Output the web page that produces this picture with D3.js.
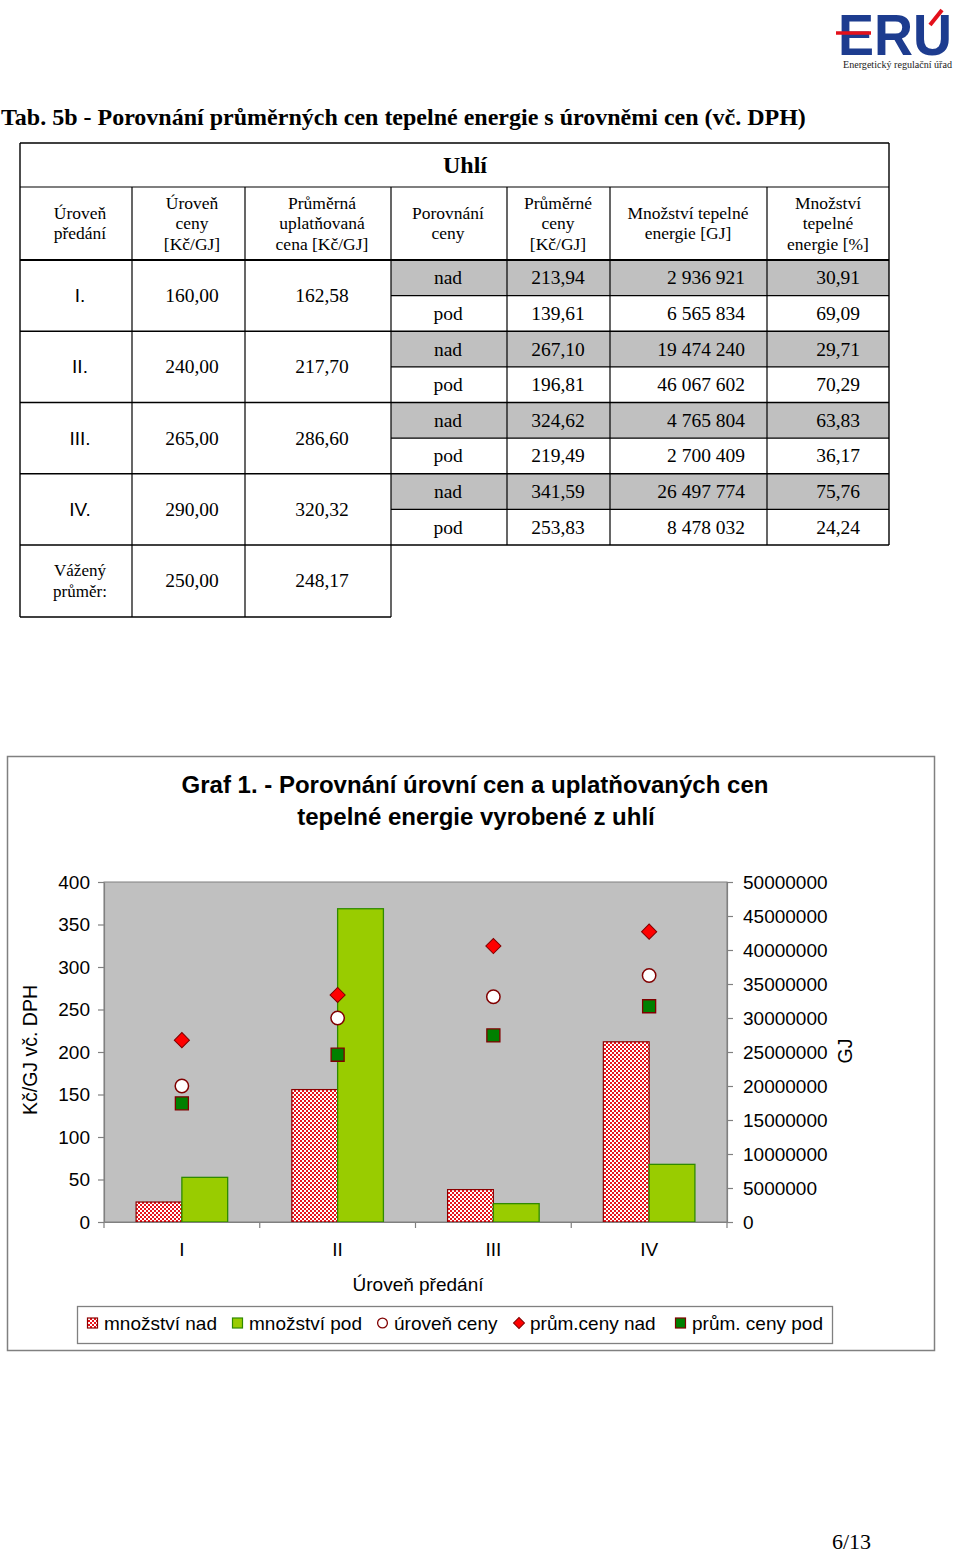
<!DOCTYPE html>
<html><head><meta charset="utf-8">
<script src="https://cdn.jsdelivr.net/npm/d3@7"></script>
<style>
html,body{margin:0;padding:0;background:#fff;}
svg{display:block;}
</style></head><body>
<svg id="page" width="960" height="1553"></svg>
<script>
// ---------------- DATA ----------------
const levels = ["I.", "II.", "III.", "IV."];
const categories = ["I", "II", "III", "IV"];
const urovenCeny = [160.00, 240.00, 265.00, 290.00];
const prumUplatCena = [162.58, 217.70, 286.60, 320.32];
const prumCenyNad = [213.94, 267.10, 324.62, 341.59];
const prumCenyPod = [139.61, 196.81, 219.49, 253.83];
const mnozstviNad = [2936921, 19474240, 4765804, 26497774];
const mnozstviPod = [6565834, 46067602, 2700409, 8478032];
const podilNad = [30.91, 29.71, 63.83, 75.76];
const podilPod = [69.09, 70.29, 36.17, 24.24];
const vazenyPrumer = [250.00, 248.17];
const leftTicks = [0, 50, 100, 150, 200, 250, 300, 350, 400];
const rightTicks = [0, 5000000, 10000000, 15000000, 20000000, 25000000, 30000000, 35000000, 40000000, 45000000, 50000000];
const legendLabels = ["množství nad", "množství pod", "úroveň ceny", "prům.ceny nad", "prům. ceny pod"];

// ---------------- SETUP ----------------
const cz = d3.formatLocale({decimal: ",", thousands: " ", grouping: [3], currency: ["", ""]});
const f2 = cz.format(".2f");
const fInt = cz.format(",d");
const serif = "'Liberation Serif','Times New Roman',serif";
const sans = "'Liberation Sans',Arial,sans-serif";
const svg = d3.select("#page");
svg.append("rect").attr("width", 960).attr("height", 1553).attr("fill", "#fff");

// ---------------- LOGO ----------------
const logo = svg.append("g");
logo.append("text").attr("x", 838).attr("y", 55).attr("font-family", sans).attr("font-weight", "bold")
  .attr("font-size", 57).attr("fill", "#1d3c8f").attr("textLength", 114).attr("lengthAdjust", "spacingAndGlyphs").text("ERU");
logo.append("line").attr("x1", 836).attr("x2", 871).attr("y1", 33).attr("y2", 33).attr("stroke", "#e3101b").attr("stroke-width", 3.5);
logo.append("line").attr("x1", 930).attr("x2", 942).attr("y1", 25).attr("y2", 10).attr("stroke", "#e3101b").attr("stroke-width", 4);
logo.append("text").attr("x", 843).attr("y", 68).attr("font-family", serif).attr("font-size", 10)
  .attr("textLength", 109).attr("lengthAdjust", "spacingAndGlyphs").attr("fill", "#222").text("Energetický regulační úřad");

// ---------------- TABLE ----------------
svg.append("text").attr("x", 1).attr("y", 125).attr("font-family", serif).attr("font-weight", "bold")
  .attr("font-size", 24).text("Tab. 5b - Porovnání průměrných cen tepelné energie s úrovněmi cen (vč. DPH)");

const colX = [20, 132, 245, 391, 507, 610, 767, 889];
const tTop = 143, tH1 = 187, tH2 = 260;
const rowY = d3.scaleLinear().domain([0, 8]).range([tH2, 545]);
const wBottom = 617;
const tbl = svg.append("g");

// gray "nad" rows
tbl.selectAll("rect.nad").data(levels).join("rect")
  .attr("x", colX[3]).attr("width", colX[7] - colX[3])
  .attr("y", (d, i) => rowY(2 * i)).attr("height", (d, i) => rowY(2 * i + 1) - rowY(2 * i))
  .attr("fill", "#c0c0c0");

function hline(x1, x2, y, w) { tbl.append("line").attr("x1", x1).attr("x2", x2).attr("y1", y).attr("y2", y).attr("stroke", "#000").attr("stroke-width", w || 1.2); }
function vline(x, y1, y2, w) { tbl.append("line").attr("x1", x).attr("x2", x).attr("y1", y1).attr("y2", y2).attr("stroke", "#000").attr("stroke-width", w || 1.2); }

hline(colX[0], colX[7], tTop, 1.4);
hline(colX[0], colX[7], tH1);
hline(colX[0], colX[7], tH2, 2.2);
for (let g = 1; g <= 4; g++) hline(colX[0], colX[7], rowY(2 * g), 1.3);
for (let g = 0; g < 4; g++) hline(colX[3], colX[7], rowY(2 * g + 1));
hline(colX[0], colX[3], wBottom, 1.3);
vline(colX[0], tTop, wBottom, 1.4);
vline(colX[7], tTop, rowY(8), 1.4);
[1, 2].forEach(c => vline(colX[c], tH1, wBottom));
vline(colX[3], tH1, wBottom);
[4, 5, 6].forEach(c => vline(colX[c], tH1, rowY(8)));

tbl.append("text").attr("x", 465).attr("y", 173).attr("text-anchor", "middle").attr("font-family", serif)
  .attr("font-weight", "bold").attr("font-size", 24).text("Uhlí");

const headers = [
  {cx: 80, lines: ["Úroveň", "předání"]},
  {cx: 192, lines: ["Úroveň", "ceny", "[Kč/GJ]"]},
  {cx: 322, lines: ["Průměrná", "uplatňovaná", "cena [Kč/GJ]"]},
  {cx: 448, lines: ["Porovnání", "ceny"]},
  {cx: 558, lines: ["Průměrné", "ceny", "[Kč/GJ]"]},
  {cx: 688, lines: ["Množství tepelné", "energie [GJ]"]},
  {cx: 828, lines: ["Množství", "tepelné", "energie [%]"]}
];
headers.forEach(h => {
  const n = h.lines.length;
  const y0 = 223.5 - (n - 1) * 20.5 / 2 + 5.5;
  const t = tbl.append("text").attr("text-anchor", "middle").attr("font-family", serif).attr("font-size", 17.5);
  h.lines.forEach((l, i) => t.append("tspan").attr("x", h.cx).attr("y", y0 + i * 20.5).text(l));
});

const bodyFs = 19.5;
function cell(x, y, txt, anchor, fam, fs) {
  tbl.append("text").attr("x", x).attr("y", y).attr("text-anchor", anchor || "middle")
    .attr("font-family", fam || serif).attr("font-size", fs || bodyFs).text(txt);
}
levels.forEach((lv, i) => {
  const gc = (rowY(2 * i) + rowY(2 * i + 2)) / 2;
  cell(80, gc + 6.5, lv, "middle", sans, 19);
  cell(192, gc + 6.5, f2(urovenCeny[i]));
  cell(322, gc + 6.5, f2(prumUplatCena[i]));
  const yN = (rowY(2 * i) + rowY(2 * i + 1)) / 2 + 6.5;
  const yP = (rowY(2 * i + 1) + rowY(2 * i + 2)) / 2 + 6.5;
  cell(448, yN, "nad"); cell(448, yP, "pod");
  cell(558, yN, f2(prumCenyNad[i])); cell(558, yP, f2(prumCenyPod[i]));
  cell(745, yN, fInt(mnozstviNad[i]), "end"); cell(745, yP, fInt(mnozstviPod[i]), "end");
  cell(860, yN, f2(podilNad[i]), "end"); cell(860, yP, f2(podilPod[i]), "end");
});
{
  const t = tbl.append("text").attr("text-anchor", "middle").attr("font-family", serif).attr("font-size", 17);
  t.append("tspan").attr("x", 80).attr("y", 576).text("Vážený");
  t.append("tspan").attr("x", 80).attr("y", 597).text("průměr:");
  cell(192, 587, f2(vazenyPrumer[0]));
  cell(322, 587, f2(vazenyPrumer[1]));
}

// ---------------- CHART ----------------
const ch = svg.append("g");
ch.append("rect").attr("x", 7.5).attr("y", 756.5).attr("width", 927).attr("height", 594).attr("fill", "#fff")
  .attr("stroke", "#808080").attr("stroke-width", 1.5);

ch.append("text").attr("x", 475).attr("y", 793).attr("text-anchor", "middle").attr("font-family", sans)
  .attr("font-weight", "bold").attr("font-size", 24).text("Graf 1. - Porovnání úrovní cen a uplatňovaných cen");
ch.append("text").attr("x", 476).attr("y", 825).attr("text-anchor", "middle").attr("font-family", sans)
  .attr("font-weight", "bold").attr("font-size", 24).text("tepelné energie vyrobené z uhlí");

const X0 = 104, X1 = 727, Y0 = 1222, Y1 = 882;
const x = d3.scaleBand().domain(categories).range([X0, X1]);
const yL = d3.scaleLinear().domain([0, 400]).range([Y0, Y1]);
const yR = d3.scaleLinear().domain([0, 50000000]).range([Y0, Y1]);

// pattern for "množství nad"
const defs = svg.append("defs");
const pat = defs.append("pattern").attr("id", "checker").attr("patternUnits", "userSpaceOnUse")
  .attr("width", 4).attr("height", 4);
pat.append("rect").attr("width", 4).attr("height", 4).attr("fill", "#ffffff");
pat.append("rect").attr("width", 2).attr("height", 2).attr("fill", "#e8141c");
pat.append("rect").attr("x", 2).attr("y", 2).attr("width", 2).attr("height", 2).attr("fill", "#e8141c");

ch.append("rect").attr("x", X0).attr("y", Y1).attr("width", X1 - X0).attr("height", Y0 - Y1)
  .attr("fill", "#c0c0c0").attr("stroke", "#808080").attr("stroke-width", 1);

const bw = x.bandwidth() * 0.294;
const cx = c => x(c) + x.bandwidth() / 2;

ch.selectAll("rect.nad").data(categories).join("rect").attr("class", "nad")
  .attr("x", c => cx(c) - bw).attr("width", bw)
  .attr("y", (c, i) => yR(mnozstviNad[i])).attr("height", (c, i) => Y0 - yR(mnozstviNad[i]))
  .attr("fill", "url(#checker)").attr("stroke", "#8c0000").attr("stroke-width", 1.2);
ch.selectAll("rect.pod").data(categories).join("rect").attr("class", "pod")
  .attr("x", c => cx(c)).attr("width", bw)
  .attr("y", (c, i) => yR(mnozstviPod[i])).attr("height", (c, i) => Y0 - yR(mnozstviPod[i]))
  .attr("fill", "#99cc00").attr("stroke", "#2f8a00").attr("stroke-width", 1.3);

// axes
const axL = ch.append("g").attr("transform", `translate(${X0},0)`)
  .call(d3.axisLeft(yL).tickValues(leftTicks).tickSize(6).tickSizeOuter(0).tickPadding(8));
const axR = ch.append("g").attr("transform", `translate(${X1},0)`)
  .call(d3.axisRight(yR).tickValues(rightTicks).tickFormat(d => String(d)).tickSize(6).tickSizeOuter(0).tickPadding(10));
const axB = ch.append("g").attr("transform", `translate(0,${Y0})`)
  .call(d3.axisBottom(x).tickSize(0).tickSizeOuter(0).tickPadding(21));
[axL, axR, axB].forEach(a => {
  a.selectAll("path.domain").attr("stroke", "#808080").attr("stroke-width", 1.2);
  a.selectAll(".tick line").attr("stroke", "#808080").attr("stroke-width", 1.2);
  a.selectAll("text").attr("font-family", sans).attr("font-size", 19).attr("fill", "#000");
});
// category boundary ticks
ch.selectAll("line.btick").data(categories.map(c => x(c)).concat([X1])).join("line")
  .attr("x1", d => d).attr("x2", d => d).attr("y1", Y0).attr("y2", Y0 + 6)
  .attr("stroke", "#808080").attr("stroke-width", 1.2);

// markers
const diamond = d3.symbol().type(d3.symbolSquare).size(115);
const circle = d3.symbol().type(d3.symbolCircle).size(140);
const square = d3.symbol().type(d3.symbolSquare).size(170);
ch.selectAll("path.cir").data(categories).join("path")
  .attr("transform", (c, i) => `translate(${cx(c)},${yL(urovenCeny[i])})`).attr("d", circle)
  .attr("fill", "#fff").attr("stroke", "#800000").attr("stroke-width", 1.5);
ch.selectAll("path.dia").data(categories).join("path")
  .attr("transform", (c, i) => `translate(${cx(c)},${yL(prumCenyNad[i])}) rotate(45)`).attr("d", diamond)
  .attr("fill", "#ff0000").attr("stroke", "#800000").attr("stroke-width", 1);
ch.selectAll("path.sq").data(categories).join("path")
  .attr("transform", (c, i) => `translate(${cx(c)},${yL(prumCenyPod[i])})`).attr("d", square)
  .attr("fill", "#008000").attr("stroke", "#800000").attr("stroke-width", 1.3);

// axis titles
ch.append("text").attr("transform", "translate(37,1050) rotate(-90)").attr("text-anchor", "middle")
  .attr("font-family", sans).attr("font-size", 19.5).text("Kč/GJ vč. DPH");
ch.append("text").attr("transform", "translate(852,1051) rotate(-90)").attr("text-anchor", "middle")
  .attr("font-family", sans).attr("font-size", 19.5).text("GJ");
ch.append("text").attr("x", 418).attr("y", 1291).attr("text-anchor", "middle")
  .attr("font-family", sans).attr("font-size", 19).text("Úroveň předání");

// legend
const lg = ch.append("g");
lg.append("rect").attr("x", 77.5).attr("y", 1306.5).attr("width", 755).attr("height", 37)
  .attr("fill", "#fff").attr("stroke", "#808080").attr("stroke-width", 1.3);
const legX = [87, 232, 377, 513, 675];
const ly = 1323;
legendLabels.forEach((lab, i) => {
  const g = lg.append("g");
  const sx = legX[i];
  if (i === 0) g.append("rect").attr("x", sx + 0.5).attr("y", ly - 5).attr("width", 10).attr("height", 10)
    .attr("fill", "url(#checker)").attr("stroke", "#8c0000").attr("stroke-width", 1.2);
  if (i === 1) g.append("rect").attr("x", sx + 0.5).attr("y", ly - 5).attr("width", 10).attr("height", 10)
    .attr("fill", "#99cc00").attr("stroke", "#2f8a00").attr("stroke-width", 1.2);
  if (i === 2) g.append("path").attr("transform", `translate(${sx + 5.5},${ly})`).attr("d", d3.symbol().type(d3.symbolCircle).size(75))
    .attr("fill", "#fff").attr("stroke", "#800000").attr("stroke-width", 1.3);
  if (i === 3) g.append("path").attr("transform", `translate(${sx + 6},${ly}) rotate(45)`).attr("d", d3.symbol().type(d3.symbolSquare).size(60))
    .attr("fill", "#ff0000").attr("stroke", "#800000").attr("stroke-width", 1);
  if (i === 4) g.append("rect").attr("x", sx + 0.5).attr("y", ly - 5).attr("width", 10).attr("height", 10)
    .attr("fill", "#008000").attr("stroke", "#800000").attr("stroke-width", 1.2);
  g.append("text").attr("x", sx + 17).attr("y", ly + 6.5)
    .attr("font-family", sans).attr("font-size", 19).text(lab);
});

// page number
svg.append("text").attr("x", 832).attr("y", 1549).attr("font-family", serif).attr("font-size", 22).text("6/13");
</script>
</body></html>
